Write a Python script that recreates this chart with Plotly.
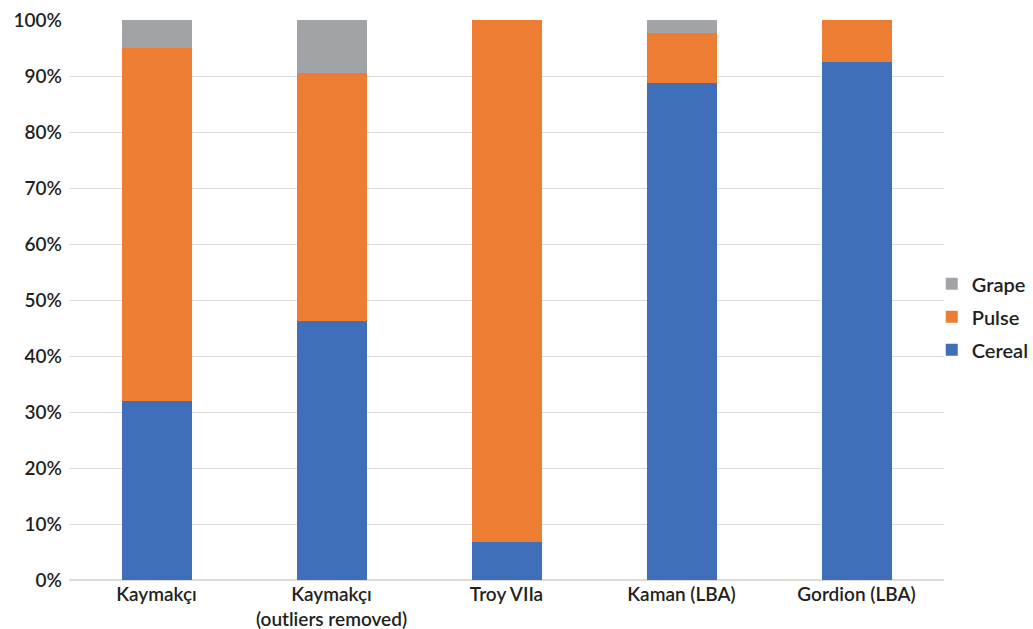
import plotly.graph_objects as go

# Share of charred plant remains by site
sites = ["Kaymakçı", "Kaymakçı<br>(outliers removed)", "Troy VIIa", "Kaman (LBA)", "Gordion (LBA)"]
cereal = [0.32, 0.462, 0.068, 0.887, 0.925]
pulse = [0.63, 0.444, 0.932, 0.089, 0.075]
grape = [0.05, 0.094, 0.0, 0.024, 0.0]

colors = {"Cereal": "#3F6FB8", "Pulse": "#ED7D33", "Grape": "#A1A3A6"}
# legend lists the top of the stack first
legend_rank = {"Grape": 1, "Pulse": 2, "Cereal": 3}

fig = go.Figure()
for name, vals in [("Cereal", cereal), ("Pulse", pulse), ("Grape", grape)]:
    fig.add_trace(go.Bar(
        x=sites, y=vals, name=name, legendgroup=name,
        legendrank=legend_rank[name],
        marker=dict(color=colors[name], line=dict(width=0)),
    ))

font_family = "Lato, Open Sans, sans-serif"
text_color = "#231F20"

fig.update_layout(
    barmode="stack",
    bargap=0.6,
    width=1033, height=629,
    margin=dict(l=69, r=89, t=20, b=49, autoexpand=False),
    paper_bgcolor="white",
    plot_bgcolor="white",
    font=dict(family=font_family, size=18, color=text_color, weight=600),
    legend=dict(
        x=0.986, y=0.47, xanchor="left", yanchor="middle",
        traceorder="grouped",
        bgcolor="rgba(0,0,0,0)",
        font=dict(size=20, weight=600),
        itemwidth=30,
        tracegroupgap=4,
    ),
    xaxis=dict(
        showgrid=False, showline=False, ticks="",
        tickfont=dict(size=19, weight=600),
        ticklabelstandoff=1,
    ),
    yaxis=dict(
        range=[0, 1], dtick=0.1, tickformat=".0%",
        showgrid=True, gridcolor="#DEDADA", gridwidth=1,
        zeroline=True, zerolinecolor="#DEDADA",
        showline=False, ticks="",
        tickfont=dict(size=19, weight=600),
        ticklabelstandoff=6,
    ),
)

fig.write_html("out.html")
